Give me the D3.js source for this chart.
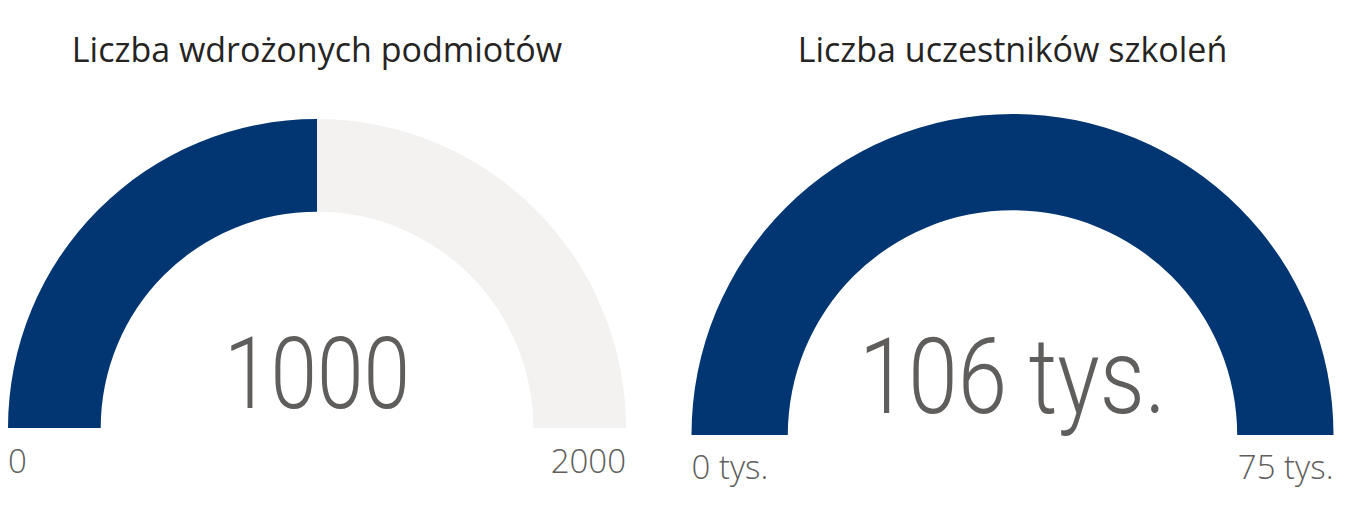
<!DOCTYPE html>
<html>
<head>
<meta charset="utf-8">
<script src="https://cdn.jsdelivr.net/npm/d3@7"></script>
<style>
    body { margin: 0; background: #fff; }
    .title { font-family: "Open Sans", "Noto Sans", sans-serif; fill: #252423; }
    .value { font-family: Roboto, "DejaVu Sans", sans-serif; font-weight: 300; fill: #605E5C; }
    .range { font-family: "Open Sans", "Noto Sans", sans-serif; font-weight: 300; fill: #605E5C; }
</style>
</head>
<body>
<div id="chart"></div>
<script>
// gauge data
const titles = ["Liczba wdrożonych podmiotów", "Liczba uczestników szkoleń"];
const values = [1000, 106];
const minValues = [0, 0];
const maxValues = [2000, 75];
const valueLabels = ["1000", "106 tys."];
const minLabels = ["0", "0 tys."];
const maxLabels = ["2000", "75 tys."];

const width = 1346, height = 508;

// layout of each gauge (pixels)
const layout = [
    { cx: 317, cy: 428, r: 309, titleY: 62, valueY: 408, valueSize: 101, valueLen: 186, rangeY: 473 },
    { cx: 1012.5, cy: 435, r: 321, titleY: 62, valueY: 413, valueSize: 105, valueLen: 307, rangeY: 479 }
];

const svg = d3.select("#chart").append("svg")
    .attr("width", width)
    .attr("height", height);

titles.forEach((title, i) => {
    const L = layout[i];
    const g = svg.append("g")
        .attr("transform", `translate(${L.cx},${L.cy})`);

    const angle = d3.scaleLinear()
        .domain([minValues[i], maxValues[i]])
        .range([-Math.PI / 2, Math.PI / 2])
        .clamp(true);

    const arc = d3.arc()
        .innerRadius(L.r * 0.7)
        .outerRadius(L.r);

    // track
    g.append("path")
        .attr("d", arc({ startAngle: angle(minValues[i]), endAngle: angle(maxValues[i]) }))
        .attr("fill", "#F3F2F1");

    // value
    g.append("path")
        .attr("d", arc({ startAngle: angle(minValues[i]), endAngle: angle(values[i]) }))
        .attr("fill", "#023673");

    svg.append("text")
        .attr("class", "title")
        .attr("x", L.cx)
        .attr("y", L.titleY)
        .attr("text-anchor", "middle")
        .style("font-size", "34px")
        .text(title);

    g.append("text")
        .attr("class", "value")
        .attr("x", 0)
        .attr("y", L.valueY - L.cy)
        .attr("text-anchor", "middle")
        .attr("textLength", L.valueLen)
        .attr("lengthAdjust", "spacingAndGlyphs")
        .style("font-size", L.valueSize + "px")
        .text(valueLabels[i]);

    g.append("text")
        .attr("class", "range")
        .attr("x", -L.r)
        .attr("y", L.rangeY - L.cy)
        .attr("text-anchor", "start")
        .style("font-size", "33px")
        .text(minLabels[i]);

    g.append("text")
        .attr("class", "range")
        .attr("x", L.r)
        .attr("y", L.rangeY - L.cy)
        .attr("text-anchor", "end")
        .style("font-size", "33px")
        .text(maxLabels[i]);
});
</script>
</body>
</html>
